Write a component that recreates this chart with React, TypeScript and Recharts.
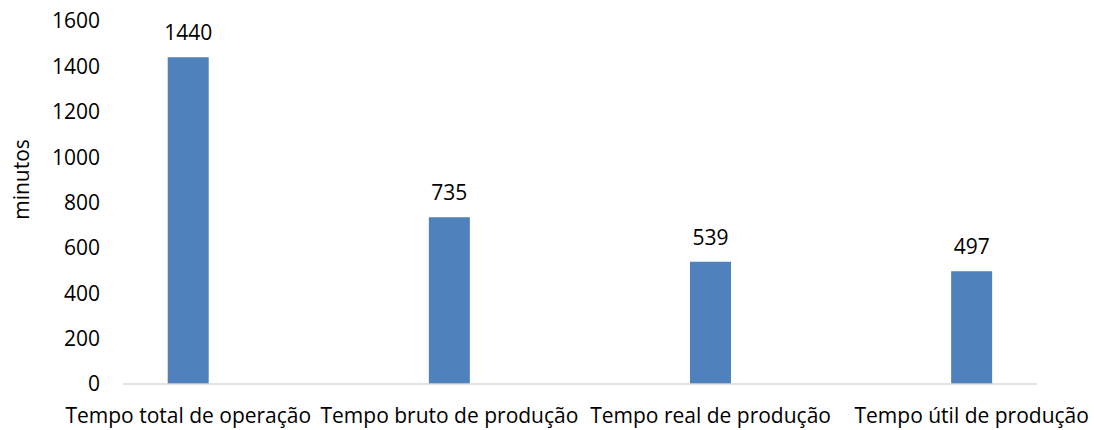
import { BarChart, Bar, XAxis, YAxis, LabelList, Label } from 'recharts';

const categories = [
  'Tempo total de operação',
  'Tempo bruto de produção',
  'Tempo real de produção',
  'Tempo útil de produção',
];
const minutes = [1440, 735, 539, 497];
const yTicks = [0, 200, 400, 600, 800, 1000, 1200, 1400, 1600];

// each category sits a quarter slot in from the left of its slot
const SLOT_OFFSET = 0.25;

const data = categories.map((name, i) => ({
  name,
  slot: i + SLOT_OFFSET,
  minutes: minutes[i],
}));

const FONT = '"Open Sans", Lato, sans-serif';
const tickStyle = { fontSize: 21, fill: '#000', fontFamily: FONT };

function YTitle({ viewBox }: any) {
  const x = viewBox.x + 21;
  const y = viewBox.y + viewBox.height / 2 - 23;
  return (
    <text
      x={x}
      y={y}
      transform={`rotate(-90, ${x}, ${y})`}
      textAnchor="middle"
      dominantBaseline="central"
      fontSize={21}
      fontFamily={FONT}
      fill="#000"
    >
      minutos
    </text>
  );
}

export default function App() {
  return (
    <div style={{ position: 'absolute', left: 0, top: 0, background: '#fff' }}>
      <BarChart width={1094} height={430} data={data} margin={{ top: 21, right: 57, left: 0, bottom: 0 }}>
        <XAxis
          type="number"
          dataKey="slot"
          domain={[0, categories.length - 0.5]}
          ticks={data.map((d) => d.slot)}
          tickFormatter={(v) => categories[Math.round(v - SLOT_OFFSET)]}
          interval={0}
          height={46}
          tickLine={false}
          tickSize={0}
          tickMargin={24}
          axisLine={{ stroke: '#d9d9d9', strokeWidth: 1.5 }}
          tick={tickStyle}
        />
        <YAxis
          domain={[0, 1600]}
          ticks={yTicks}
          width={123}
          axisLine={false}
          tickLine={false}
          tickSize={0}
          tickMargin={23}
          tick={tickStyle}
        >
          <Label content={<YTitle />} />
        </YAxis>
        <Bar dataKey="minutes" fill="#4f81bd" barSize={41} isAnimationActive={false}>
          <LabelList dataKey="minutes" position="top" offset={17} style={tickStyle} />
        </Bar>
      </BarChart>
    </div>
  );
}
